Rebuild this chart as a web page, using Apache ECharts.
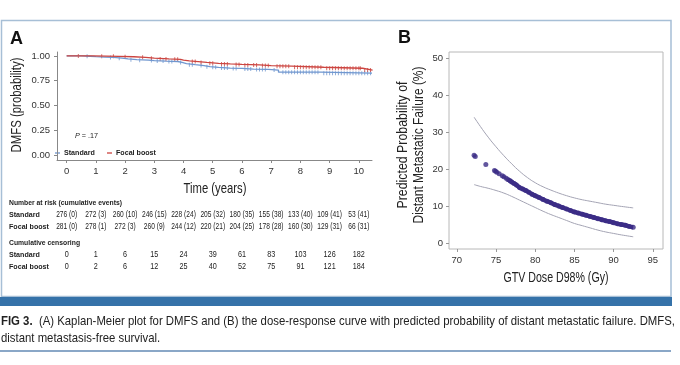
<!DOCTYPE html>
<html><head><meta charset="utf-8">
<script src="https://cdn.jsdelivr.net/npm/echarts@6/dist/echarts.min.js"></script>
<style>html,body{margin:0;padding:0;background:#fff}#c{width:680px;height:365px}</style>
</head><body><div id="c"></div>
<script>
// ---------- Panel A: Kaplan-Meier (DMFS) ----------
const years = [0,1,2,3,4,5,6,7,8,9,10];
const stdT = [0,0.5,0.8,1.0,1.3,1.6,1.9,2.1,2.4,2.8,3.0,3.4,3.8,3.95,4.1,4.4,4.7,4.9,5.2,5.6,6.0,6.4,6.9,7.25,8.7,10.45];
const stdS = [1,0.997,0.993,0.989,0.985,0.978,0.970,0.963,0.957,0.953,0.948,0.944,0.935,0.922,0.912,0.903,0.892,0.885,0.878,0.874,0.868,0.864,0.858,0.836,0.826,0.826];
const fbT = [0,0.9,1.8,2.3,2.7,3.0,3.5,3.9,4.0,4.2,4.5,4.8,5.2,5.6,6.0,6.6,7.0,7.7,8.8,10.13,10.47];
const fbS = [1,0.996,0.992,0.986,0.978,0.970,0.966,0.958,0.950,0.943,0.935,0.926,0.920,0.915,0.910,0.903,0.897,0.886,0.876,0.858,0.858];
const stdCensor = [0.7,1.5,1.8,2.2,2.5,2.9,3.1,3.3,3.5,3.6,3.9,4.2,4.3,4.6,4.8,5.0,5.1,5.3,5.4,5.5,5.7,5.8,6.1,6.2,6.3,6.5,6.6,6.7,6.8,7.1,7.4,7.5,7.6,7.7,7.8,7.9,8.0,8.1,8.2,8.3,8.4,8.5,8.6,8.8,8.9,9.0,9.1,9.2,9.3,9.4,9.5,9.6,9.7,9.8,9.9,10.0,10.1,10.2,10.3,10.4];
const fbCensor = [0.4,1.2,1.6,2.0,2.6,2.9,3.2,3.4,3.7,3.8,4.3,4.4,4.6,4.9,5.0,5.3,5.4,5.5,5.8,5.9,6.1,6.2,6.4,6.5,6.7,6.8,6.9,7.2,7.3,7.4,7.5,7.6,7.8,7.9,8.0,8.1,8.2,8.3,8.4,8.5,8.6,8.7,8.9,9.0,9.1,9.2,9.3,9.4,9.5,9.6,9.7,9.8,9.9,10.0,10.05,10.2,10.3,10.4];
const riskStd = ['276 (0)','272 (3)','260 (10)','246 (15)','228 (24)','205 (32)','180 (35)','155 (38)','133 (40)','109 (41)','53 (41)'];
const riskFb  = ['281 (0)','278 (1)','272 (3)','260 (9)','244 (12)','220 (21)','204 (25)','178 (28)','160 (30)','129 (31)','66 (31)'];
const censStd = [0,1,6,15,24,39,61,83,103,126,182];
const censFb  = [0,2,6,12,25,40,52,75,91,121,184];
const yTicksA = [0,0.25,0.5,0.75,1];

// ---------- Panel B: dose-response ----------
const doseX = [72.2,72.35,73.7,74.8,74.95,75.1,75.4,75.8,76.0,76.3,76.5,76.8,77.0,77.3,77.6,78.0,78.4,78.8,79.2,79.6,80.0,80.5,81.0,81.5,82.0,82.5,83.0,83.5,84.0,84.5,85.0,85.5,86.0,86.5,87.0,87.5,88.0,88.5,89.0,89.5,90.0,90.5,91.0,91.5,92.0,92.5];
const predY = [23.7,23.4,21.2,19.6,19.4,19.1,18.7,18.2,17.9,17.5,17.2,16.8,16.5,16.1,15.7,15.0,14.6,14.2,13.7,13.2,12.8,12.3,11.8,11.3,10.9,10.4,10.0,9.6,9.2,8.8,8.4,8.1,7.8,7.5,7.2,6.9,6.6,6.3,6.0,5.8,5.5,5.2,5.0,4.8,4.5,4.3];
const ciX = [72.2,73,74,75,76,77,78,79,80,81,82,83,84,85,86,87,88,89,90,91,92.5];
const ciUpper = [34.0,31.5,28.6,26.0,23.6,21.4,19.4,17.7,16.3,15.2,14.3,13.5,12.8,12.2,11.7,11.3,10.9,10.5,10.2,9.9,9.5];
const ciLower = [15.8,15.3,14.8,14.2,13.5,12.6,11.6,10.6,9.6,8.6,7.7,6.9,6.1,5.3,4.7,4.1,3.5,3.0,2.6,2.2,1.7];
const xTicksB = [70,75,80,85,90,95];
const yTicksB = [0,10,20,30,40,50];

const BLUE = '#7097cf', RED = '#cc4540', DOT = '#3b2c86', CI = '#a3a3b3';
const SANS = "'Liberation Sans',Arial,sans-serif";

function stepAt(T, S, t) { let v = S[0]; for (let i = 0; i < T.length; i++) { if (T[i] <= t) v = S[i]; } return v; }
const zip = (a, b) => a.map((v, i) => [v, b[i]]);
const mctx = document.createElement('canvas').getContext('2d');
function measure(text, size, weight) { mctx.font = (weight || 'normal') + ' ' + size + 'px ' + SANS; return mctx.measureText(text).width; }

const chart = echarts.init(document.getElementById('c'), null, {renderer: 'canvas'});
const axisTxt = {color: '#333', fontSize: 9.5, fontFamily: SANS};
chart.setOption({
  animation: false,
  grid: [
    {left: 57, right: 308, top: 52, bottom: 205},
    {left: 449, right: 17, top: 52, bottom: 116, show: true, borderColor: '#b8b8b8', borderWidth: 1}
  ],
  xAxis: [
    {gridIndex: 0, type: 'value', min: -0.33, max: 10.45,
     axisLine: {onZero: false, lineStyle: {color: '#888'}}, splitLine: {show: false},
     axisTick: {customValues: years, length: 3, lineStyle: {color: '#888'}},
     axisLabel: Object.assign({customValues: years, margin: 6}, axisTxt)},
    {gridIndex: 1, type: 'value', min: 69, max: 96.3,
     axisLine: {show: false, onZero: false}, splitLine: {show: false},
     axisTick: {customValues: xTicksB, length: 3, lineStyle: {color: '#999'}},
     axisLabel: Object.assign({customValues: xTicksB, margin: 6}, axisTxt)}
  ],
  yAxis: [
    {gridIndex: 0, type: 'value', min: -0.05, max: 1.04,
     axisLine: {show: true, onZero: false, lineStyle: {color: '#888'}}, splitLine: {show: false},
     axisTick: {show: true, customValues: yTicksA, length: 3, lineStyle: {color: '#888'}},
     axisLabel: Object.assign({customValues: yTicksA, margin: 7, formatter: v => v.toFixed(2)}, axisTxt)},
    {gridIndex: 1, type: 'value', min: -1.6, max: 51.6,
     axisLine: {show: false, onZero: false}, splitLine: {show: false},
     axisTick: {show: true, customValues: yTicksB, length: 3, lineStyle: {color: '#999'}},
     axisLabel: Object.assign({customValues: yTicksB, margin: 6}, axisTxt)}
  ],
  series: [
    {type: 'line', xAxisIndex: 0, yAxisIndex: 0, step: 'end', data: zip(stdT, stdS), showSymbol: false,
     lineStyle: {color: BLUE, width: 1.3}},
    {type: 'line', xAxisIndex: 0, yAxisIndex: 0, step: 'end', data: zip(fbT, fbS), showSymbol: false,
     lineStyle: {color: RED, width: 1.3}},
    {type: 'scatter', xAxisIndex: 0, yAxisIndex: 0, data: stdCensor.map(t => [t, stepAt(stdT, stdS, t)]),
     symbol: 'rect', symbolSize: [1, 4], itemStyle: {color: BLUE}},
    {type: 'scatter', xAxisIndex: 0, yAxisIndex: 0, data: fbCensor.map(t => [t, stepAt(fbT, fbS, t)]),
     symbol: 'rect', symbolSize: [1, 4], itemStyle: {color: RED}},
    {type: 'line', xAxisIndex: 1, yAxisIndex: 1, data: zip(ciX, ciUpper), showSymbol: false, smooth: true,
     lineStyle: {color: CI, width: 1}},
    {type: 'line', xAxisIndex: 1, yAxisIndex: 1, data: zip(ciX, ciLower), showSymbol: false, smooth: true,
     lineStyle: {color: CI, width: 1}},
    {type: 'line', xAxisIndex: 1, yAxisIndex: 1, data: zip(doseX.slice(10), predY.slice(10)), showSymbol: false, smooth: true,
     lineStyle: {color: DOT, width: 4.5}},
    {type: 'scatter', xAxisIndex: 1, yAxisIndex: 1, data: zip(doseX, predY),
     symbol: 'circle', symbolSize: 5, itemStyle: {color: DOT}}
  ]
});

// ---------- annotations, table, frame ----------
const px = yr => chart.convertToPixel({xAxisIndex: 0}, yr);
const G = [];
const TS = 0.85; // condensed look for table text
const txt = (x, y, text, extra, sx) => G.push({type: 'text', x: x, y: y, silent: true, scaleX: sx || 1,
  style: Object.assign({text: text, verticalAlign: 'middle', fontSize: 8, fontFamily: SANS, fill: '#222'}, extra || {})});
// fitted title text (condensed to a target width)
function title(cx, cy, text, size, target, rot) {
  const sx = target / measure(text, size);
  G.push({type: 'text', x: cx, y: cy, rotation: rot || 0, scaleX: sx, silent: true,
    style: {text: text, align: 'center', verticalAlign: 'middle', fontSize: size, fontFamily: SANS, fill: '#222'}});
}

// frame, bar, rule
G.push({type: 'rect', shape: {x: 1.5, y: 20.5, width: 669.5, height: 276}, style: {fill: 'none', stroke: '#a7bfd6', lineWidth: 1.5}, silent: true});
G.push({type: 'rect', shape: {x: 0, y: 297, width: 672, height: 9}, style: {fill: '#3572a9'}, silent: true});
G.push({type: 'line', shape: {x1: 0, y1: 351, x2: 671, y2: 351}, style: {stroke: '#8aa7c7', lineWidth: 2}, silent: true});

// panel letters
txt(10, 39, 'A', {fontSize: 18, fontWeight: 'bold', fill: '#111'});
txt(398, 38, 'B', {fontSize: 18, fontWeight: 'bold', fill: '#111'});

// axis titles
title(17, 105, 'DMFS (probability)', 15, 95, Math.PI / 2);
title(215, 189, 'Time (years)', 15, 63, 0);
title(403, 145, 'Predicted Probability of', 15, 127, Math.PI / 2);
title(419, 145, 'Distant Metastatic Failure (%)', 15, 157, Math.PI / 2);
title(556, 278, 'GTV Dose D98% (Gy)', 15, 105, 0);

// legend & p-value
G.push({type: 'line', shape: {x1: 55, y1: 153, x2: 60, y2: 153}, style: {stroke: BLUE, lineWidth: 1.3}, silent: true});
txt(64, 153, 'Standard', {fontWeight: 'bold'}, 0.89);
G.push({type: 'line', shape: {x1: 107, y1: 153, x2: 112, y2: 153}, style: {stroke: RED, lineWidth: 1.3}, silent: true});
txt(116, 153, 'Focal boost', {fontWeight: 'bold'}, 0.89);
G.push({type: 'text', x: 75, y: 136, silent: true, scaleX: 0.9, style: {text: '{i|P} = .17', verticalAlign: 'middle', fontSize: 8, fontFamily: SANS, fill: '#222',
  rich: {i: {fontStyle: 'italic', fontSize: 8, fontFamily: SANS, fill: '#222'}}}});

// number at risk table
txt(9, 203, 'Number at risk (cumulative events)', {fontWeight: 'bold'}, TS);
txt(9, 215, 'Standard', {fontWeight: 'bold'}, 0.89);
txt(9, 227, 'Focal boost', {fontWeight: 'bold'}, 0.89);
txt(9, 243, 'Cumulative censoring', {fontWeight: 'bold'}, TS);
txt(9, 255, 'Standard', {fontWeight: 'bold'}, 0.89);
txt(9, 267, 'Focal boost', {fontWeight: 'bold'}, 0.89);
years.forEach((yr, i) => {
  const x = px(yr);
  txt(x, 215, riskStd[i], {align: 'center', fontSize: 8.5}, 0.78);
  txt(x, 227, riskFb[i], {align: 'center', fontSize: 8.5}, 0.78);
  txt(x, 255, String(censStd[i]), {align: 'center', fontSize: 8.5}, 0.85);
  txt(x, 267, String(censFb[i]), {align: 'center', fontSize: 8.5}, 0.85);
});

// caption (condensed to fit the line width)
const capB = 'FIG 3.', capR = '  (A) Kaplan-Meier plot for DMFS and (B) the dose-response curve with predicted probability of distant metastatic failure. DMFS,';
const capSize = 13.5;
const capScale = 674 / (measure(capB, capSize, 'bold') + measure(capR, capSize));
G.push({type: 'text', x: 1, y: 321, silent: true, scaleX: capScale, style: {
  text: '{b|' + capB + '}' + capR, verticalAlign: 'middle', fontSize: capSize, fontFamily: SANS, fill: '#222',
  rich: {b: {fontWeight: 'bold', fontSize: capSize, fontFamily: SANS, fill: '#222'}}}});
txt(1, 338, 'distant metastasis-free survival.', {fontSize: capSize}, capScale);

chart.setOption({graphic: G});
</script></body></html>
